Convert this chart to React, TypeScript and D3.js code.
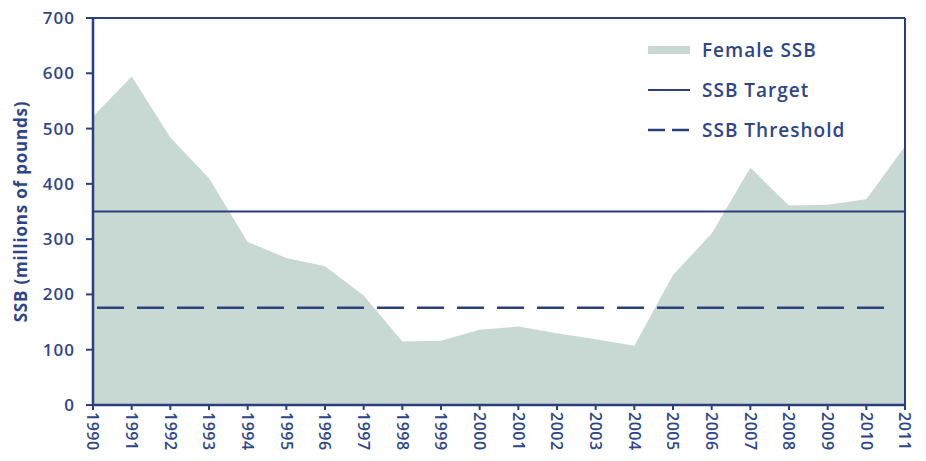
import React from "react";
import * as d3 from "d3";

const years = [1990,1991,1992,1993,1994,1995,1996,1997,1998,1999,2000,2001,2002,2003,2004,2005,2006,2007,2008,2009,2010,2011];
const femaleSSB = [522,594,484,410,295,266,251,198,115,116,136,142,130,119,107,235,310,429,361,362,372,468];
const yTicks = [0,100,200,300,400,500,600,700];
const ssbTarget = 350;
const ssbThreshold = 176;
const legendLabels = ["Female SSB","SSB Target","SSB Threshold"];

const W = 926, H = 461;
const m = { left: 93, right: 905, top: 18, bottom: 405 };
const NAVY = "#2b3f7c";
const TEXT = "#2f4686";
const FILL = "#c8d8d2";
const FONT = "'Open Sans', sans-serif";

export default function App() {
  const x = d3.scaleLinear().domain([1990, 2011]).range([m.left, m.right]);
  const y = d3.scaleLinear().domain([0, 700]).range([m.bottom, m.top]);
  const area = d3.area<number>()
    .x((_, i) => x(years[i]))
    .y0(y(0))
    .y1((d) => y(d));
  const lx0 = 648, lx1 = 690, ltx = 702;
  const ly = [50, 90, 130];
  return (
    <svg width={W} height={H} style={{ position: "absolute", left: 0, top: 0, background: "#fff" }}>
      <path d={area(femaleSSB) || ""} fill={FILL} />
      <line x1={m.left} x2={m.right} y1={y(ssbTarget)} y2={y(ssbTarget)} stroke={NAVY} strokeWidth={2} />
      <line x1={m.left + 4} x2={892} y1={y(ssbThreshold)} y2={y(ssbThreshold)} stroke={NAVY} strokeWidth={2.5} strokeDasharray="27 13" />
      {/* frame */}
      <line x1={m.left} x2={m.right} y1={m.top} y2={m.top} stroke={NAVY} strokeWidth={2} />
      <line x1={m.right} x2={m.right} y1={m.top} y2={m.bottom} stroke={NAVY} strokeWidth={2} />
      <line x1={m.left} x2={m.left} y1={m.top - 1} y2={m.bottom + 1} stroke={NAVY} strokeWidth={2.5} />
      <line x1={m.left} x2={m.right} y1={m.bottom} y2={m.bottom} stroke={NAVY} strokeWidth={2.5} />
      {yTicks.map((t) => (
        <g key={t}>
          <line x1={m.left - 7} x2={m.left} y1={y(t)} y2={y(t)} stroke={NAVY} strokeWidth={2} />
          <text x={m.left - 18} y={y(t)} dy="0.35em" textAnchor="end" fontFamily={FONT} fontWeight={600} fontSize={17} letterSpacing={1} fill={TEXT}>{t}</text>
        </g>
      ))}
      {years.map((yr) => (
        <g key={yr}>
          <line x1={x(yr)} x2={x(yr)} y1={m.bottom} y2={m.bottom + 5} stroke={NAVY} strokeWidth={2} />
          <text transform={`translate(${x(yr)},${m.bottom + 7}) rotate(90)`} dy="0.35em" textAnchor="start" fontFamily={FONT} fontWeight={600} fontSize={16} letterSpacing={0.5} fill={TEXT}>{yr}</text>
        </g>
      ))}
      <text transform={`translate(21,${(m.top + m.bottom) / 2}) rotate(-90)`} textAnchor="middle" dy="0.35em" fontFamily={FONT} fontWeight="bold" fontSize={17} letterSpacing={0.8} fill={TEXT}>SSB (millions of pounds)</text>
      {/* legend */}
      <rect x={lx0} y={ly[0] - 4} width={lx1 - lx0} height={8} fill={FILL} />
      <line x1={lx0} x2={lx1} y1={ly[1]} y2={ly[1]} stroke={NAVY} strokeWidth={2} />
      <line x1={lx0} x2={lx1} y1={ly[2]} y2={ly[2]} stroke={NAVY} strokeWidth={2.5} strokeDasharray="17 7" />
      {legendLabels.map((l, i) => (
        <text key={l} x={ltx} y={ly[i]} dy="0.35em" fontFamily={FONT} fontWeight={600} fontSize={19} letterSpacing={1} fill={TEXT}>{l}</text>
      ))}
    </svg>
  );
}
